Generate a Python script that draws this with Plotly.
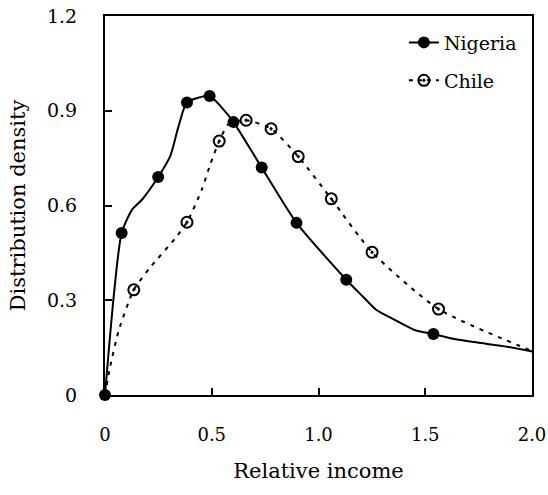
import plotly.graph_objects as go

# Nigeria: traced curve and marked points
nigeria_curve_x = [0, 0.078, 0.127, 0.174, 0.249, 0.306, 0.345, 0.384, 0.490, 0.547, 0.602, 0.734, 0.897,
                   1.130, 1.200, 1.270, 1.356, 1.449, 1.538, 1.636, 1.744, 1.884, 2.016]
nigeria_curve_y = [0, 0.513, 0.587, 0.619, 0.690, 0.757, 0.852, 0.926, 0.947, 0.910, 0.864, 0.720, 0.545,
                   0.365, 0.317, 0.270, 0.238, 0.206, 0.193, 0.177, 0.166, 0.153, 0.136]
nigeria_mark_x = [0, 0.078, 0.249, 0.384, 0.490, 0.602, 0.734, 0.897, 1.130, 1.538]
nigeria_mark_y = [0, 0.513, 0.690, 0.926, 0.947, 0.864, 0.720, 0.545, 0.365, 0.193]

# Chile: traced curve and marked points
chile_curve_x = [0, 0.023, 0.065, 0.135, 0.213, 0.330, 0.384, 0.454, 0.493, 0.535, 0.578, 0.661, 0.778,
                 0.905, 1.060, 1.251, 1.562, 2.009]
chile_curve_y = [0, 0.086, 0.206, 0.333, 0.405, 0.497, 0.547, 0.651, 0.730, 0.804, 0.857, 0.870, 0.843,
                 0.755, 0.621, 0.452, 0.272, 0.137]
chile_mark_x = [0.135, 0.384, 0.535, 0.661, 0.778, 0.905, 1.060, 1.251, 1.562]
chile_mark_y = [0.333, 0.547, 0.804, 0.870, 0.843, 0.755, 0.621, 0.452, 0.272]

x_ticks = [0, 0.5, 1.0, 1.5, 2.0]
x_labels = ["0", "0.5", "1.0", "1.5", "2.0"]
y_ticks = [0, 0.3, 0.6, 0.9, 1.2]
y_labels = ["0", "0.3", "0.6", "0.9", "1.2"]

FONT = "DejaVu Serif"

fig = go.Figure()
fig.add_trace(go.Scatter(x=nigeria_curve_x, y=nigeria_curve_y, mode="lines",
                         line=dict(color="black", width=2, shape="spline", smoothing=0.6),
                         showlegend=False, cliponaxis=False, hoverinfo="skip"))
fig.add_trace(go.Scatter(x=chile_curve_x, y=chile_curve_y, mode="lines",
                         line=dict(color="black", width=2, dash="4px,6px", shape="spline", smoothing=0.6),
                         showlegend=False, cliponaxis=False, hoverinfo="skip"))
fig.add_trace(go.Scatter(x=nigeria_mark_x, y=nigeria_mark_y, mode="markers",
                         marker=dict(color="black", size=12, symbol="circle"),
                         showlegend=False, cliponaxis=False))
fig.add_trace(go.Scatter(x=chile_mark_x, y=chile_mark_y, mode="markers",
                         marker=dict(color="black", size=11, symbol="circle-open-dot",
                                     line=dict(color="black", width=2)),
                         showlegend=False, cliponaxis=False))
# legend entries
fig.add_trace(go.Scatter(x=[None], y=[None], mode="lines+markers", name="Nigeria",
                         line=dict(color="black", width=2),
                         marker=dict(color="black", size=12), legend="legend"))
fig.add_trace(go.Scatter(x=[None], y=[None], mode="lines+markers", name="Chile",
                         line=dict(color="black", width=2, dash="4px,5px"),
                         marker=dict(color="black", size=11, symbol="circle-open-dot",
                                     line=dict(color="black", width=2)), legend="legend2"))

fig.update_layout(
    width=548, height=495,
    margin=dict(l=105, r=16, t=16, b=100),
    paper_bgcolor="white", plot_bgcolor="white",
    font=dict(family=FONT, size=18, color="black"),
    legend=dict(x=0.70, y=0.93, xanchor="left", yanchor="middle", bgcolor="rgba(0,0,0,0)",
                font=dict(family=FONT, size=19)),
    legend2=dict(x=0.70, y=0.83, xanchor="left", yanchor="middle", bgcolor="rgba(0,0,0,0)",
                 font=dict(family=FONT, size=19)),
    xaxis=dict(range=[0, 2.0], tickvals=x_ticks, ticktext=x_labels, ticks="inside", ticklen=7,
               tickwidth=1.5, tickcolor="black", showline=True, linecolor="black", linewidth=2,
               mirror=True, showgrid=False, zeroline=False, ticklabelstandoff=22,
               ticklabeloverflow="allow", automargin=False,
               tickfont=dict(family=FONT, size=18),
               title=dict(text="Relative income", font=dict(family=FONT, size=21), standoff=20)),
    yaxis=dict(range=[0, 1.2], tickvals=y_ticks, ticktext=y_labels, ticks="inside", ticklen=7,
               tickwidth=1.5, tickcolor="black", showline=True, linecolor="black", linewidth=2,
               mirror=True, showgrid=False, zeroline=False, ticklabelstandoff=22,
               ticklabeloverflow="allow", automargin=False,
               tickfont=dict(family=FONT, size=19),
               title=dict(text="Distribution density", font=dict(family=FONT, size=21), standoff=16)),
)

fig.write_html("out.html")
